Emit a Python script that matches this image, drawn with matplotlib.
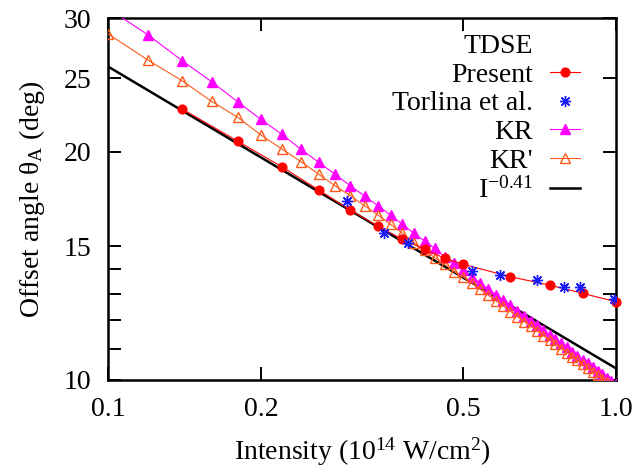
import matplotlib.pyplot as plt
from matplotlib.lines import Line2D

plt.rcParams['font.family'] = ['Liberation Serif', 'DejaVu Serif']
plt.rcParams['mathtext.fontset'] = 'custom'
plt.rcParams['mathtext.rm'] = 'Liberation Serif'
plt.rcParams['mathtext.it'] = 'Liberation Serif:italic'

# TDSE, present work
present_x = [0.14, 0.18, 0.22, 0.26, 0.30, 0.34, 0.38, 0.42, 0.46, 0.50, 0.62, 0.74, 0.86, 1.00]
present_y = [22.76, 20.65, 19.1, 17.8, 16.75, 15.95, 15.33, 14.87, 14.47, 14.21, 13.68, 13.34, 13.01, 12.68]

# TDSE, Torlina et al.
torlina_x = [0.295, 0.35, 0.39, 0.52, 0.59, 0.70, 0.79, 0.85, 0.99]
torlina_y = [17.2, 15.64, 15.14, 13.94, 13.76, 13.53, 13.26, 13.26, 12.8]

# KR and KR' share the intensity grid
kr_x = [0.10, 0.12, 0.14, 0.16, 0.18, 0.20, 0.22, 0.24, 0.26, 0.28,
        0.30, 0.32, 0.34, 0.36, 0.38, 0.40, 0.42, 0.44, 0.46, 0.48,
        0.50, 0.52, 0.54, 0.56, 0.58, 0.60, 0.62, 0.64, 0.66, 0.68,
        0.70, 0.72, 0.74, 0.76, 0.78, 0.80, 0.82, 0.84, 0.86, 0.88,
        0.90, 0.92, 0.94, 0.96, 0.98, 1.00]
kr_y = [30.9, 28.5, 26.36, 24.73, 23.27, 22.06, 21.08, 20.14, 19.36, 18.67,
        18.03, 17.48, 16.97, 16.50, 16.04, 15.61, 15.25, 14.91, 14.54, 14.25,
        13.96, 13.69, 13.43, 13.19, 12.96, 12.74, 12.54, 12.34, 12.15, 11.97,
        11.80, 11.63, 11.47, 11.32, 11.18, 11.04, 10.90, 10.77, 10.64, 10.52,
        10.41, 10.29, 10.18, 10.07, 9.97, 9.87]
krp_y = [28.6, 26.4, 24.8, 23.3, 22.2, 21.04, 20.16, 19.4, 18.67, 18.03,
         17.5, 16.97, 16.5, 16.04, 15.61, 15.17, 14.84, 14.49, 14.21, 13.89,
         13.68, 13.42, 13.17, 12.94, 12.72, 12.51, 12.31, 12.12, 11.94, 11.77,
         11.60, 11.44, 11.29, 11.14, 11.00, 10.87, 10.73, 10.61, 10.49, 10.37,
         10.26, 10.15, 10.04, 9.94, 9.84, 9.74]

# power-law guide, end points
fit_x = [0.1, 1.0]
fit_y = [25.9, 10.36]

xticks = [0.1, 0.2, 0.5, 1.0]
xlabels = ['0.1', '0.2', '0.5', '1.0']
yticks = [10, 11, 12, 13, 14, 15, 20, 25, 30]
ylabels = ['10', '', '', '', '', '15', '20', '25', '30']

fig = plt.figure(figsize=(6.35, 4.70), dpi=100)
ax = fig.add_axes([0.170, 0.1915, 0.800, 0.770])

ax.plot(present_x, present_y, color='#ff0000', lw=0.8, marker='o', ms=6.3,
        label='Present', clip_on=False, zorder=4)
ax.plot(torlina_x, torlina_y, ls='none', color='#1a1aff', marker=(8, 2, 0), ms=8,
        mew=1.0, label='Torlina et al.', zorder=5)
ax.plot(kr_x, kr_y, color='#ff00ff', lw=0.8, marker='^', ms=7, label='KR', zorder=3)
ax.plot(kr_x, krp_y, color='#ff5a1a', lw=0.8, marker='^', ms=7, mfc='none', mew=1.0,
        label="KR'", zorder=3)
ax.plot(fit_x, fit_y, color='black', lw=1.8, label=r'I$^{-0.41}$', zorder=2)

ax.set_xscale('log')
ax.set_yscale('log')
ax.set_xlim(0.1, 1.0)
ax.set_ylim(10, 30)
ax.set_xticks(xticks)
ax.set_xticklabels(xlabels)
ax.set_yticks(yticks)
ax.set_yticklabels(ylabels)
ax.minorticks_off()
ax.tick_params(which='both', direction='in', top=True, right=True,
               length=9.5, width=1.4, labelsize=20, pad=12)
for s in ax.spines.values():
    s.set_linewidth(1.8)

ax.set_xlabel('Intensity (10$^{14}$ W/cm$^2$)', fontsize=20, labelpad=10)
ax.set_ylabel('Offset angle θ$_\\mathrm{A}$ (deg)', fontsize=20, labelpad=12)

# legend with a "TDSE" header row, gnuplot style (text left of sample)
h, l = ax.get_legend_handles_labels()
header = Line2D([], [], ls='none')
ax.legend([header] + h, ['TDSE'] + l, loc='upper right', bbox_to_anchor=(0.93, 0.958),
          frameon=False, markerfirst=False, fontsize=20, handlelength=1.1,
          handletextpad=0.6, labelspacing=0.12, borderpad=0, borderaxespad=0)

fig.savefig('out.png', dpi=100)
